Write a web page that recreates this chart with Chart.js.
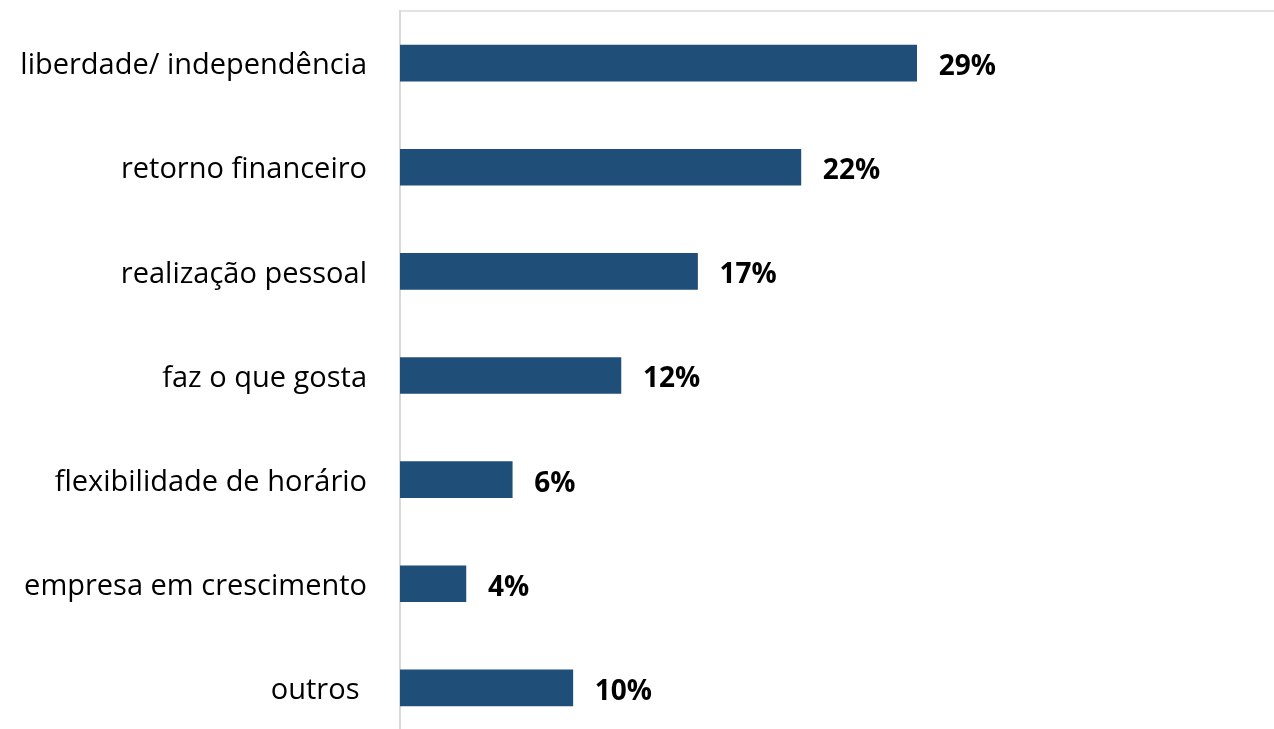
<!DOCTYPE html>
<html>
<head>
<meta charset="utf-8">
<script src="https://cdn.jsdelivr.net/npm/chart.js@4/dist/chart.umd.min.js"></script>
<style>
    html, body { margin: 0; padding: 0; background: #ffffff; overflow: hidden; }
    #motivosChart { display: block; }
</style>
</head>
<body>
<canvas id="motivosChart" width="1274" height="740"></canvas>
<script>
// categories, bar lengths and printed labels
const categories = ['liberdade/ independência', 'retorno financeiro', 'realização pessoal', 'faz o que gosta', 'flexibilidade de horário', 'empresa em crescimento', 'outros '];
const values = [29.0, 22.5, 16.7, 12.4, 6.3, 3.7, 9.7];
const valueLabels = ['29%', '22%', '17%', '12%', '6%', '4%', '10%'];

/**
 * Bold percentage labels at the end of each bar
 */
const barLabels = {
    id: 'barLabels',
    afterDatasetsDraw(chart) {
        const ctx = chart.ctx;
        const meta = chart.getDatasetMeta(0);
        ctx.save();
        ctx.fillStyle = '#000000';
        ctx.font = 'bold 28px "Open Sans"';
        ctx.textAlign = 'left';
        ctx.textBaseline = 'middle';
        meta.data.forEach(function(bar, i) {
            ctx.fillText(valueLabels[i], bar.x + 22, bar.y + 4);
        });
        ctx.restore();
    }
};

document.addEventListener('DOMContentLoaded', function() {
    const ctx = document.getElementById('motivosChart');

    new Chart(ctx, {
        type: 'bar',
        data: {
            labels: categories,
            datasets: [{
                data: values,
                backgroundColor: '#1f4e79',
                borderWidth: 0,
                barThickness: 36
            }]
        },
        plugins: [barLabels],
        options: {
            indexAxis: 'y',
            responsive: false,
            animation: false,
            layout: {
                padding: { top: 11, right: 1, bottom: 0, left: 0 }
            },
            plugins: {
                legend: { display: false },
                tooltip: { enabled: false }
            },
            scales: {
                x: {
                    position: 'top',
                    min: 0,
                    max: 49,
                    grid: { display: false, drawTicks: false },
                    ticks: { display: false },
                    border: { color: '#e3e3e3', width: 2 },
                    afterFit: function(scale) {
                        scale.height = 0;
                    }
                },
                y: {
                    grid: { display: false, drawTicks: true, tickLength: 33 },
                    border: { color: '#d9d9d9', width: 2 },
                    ticks: {
                        color: '#000000',
                        padding: 0,
                        labelOffset: 3,
                        font: { family: '"Open Sans"', size: 29 }
                    },
                    afterFit: function(scale) {
                        scale.width = 400;
                        scale.paddingTop = 0;
                        scale.paddingBottom = 0;
                    }
                }
            }
        }
    });
});
</script>
</body>
</html>
